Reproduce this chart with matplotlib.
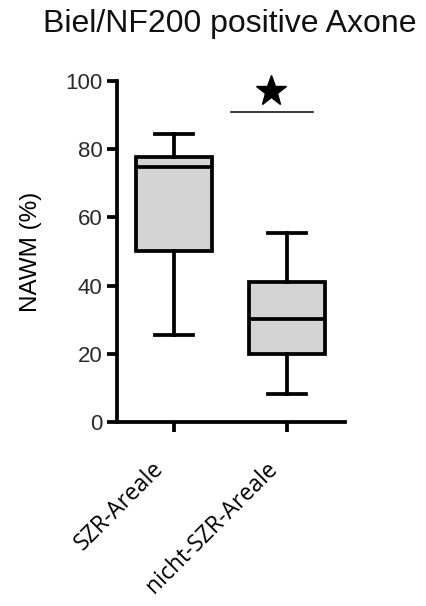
import matplotlib.pyplot as plt
import matplotlib.transforms as mtransforms

# ── Data ──────────────────────────────────────────────────────────────────────
groups   = ['SZR-Areale', 'nicht-SZR-Areale']
whis_lo  = [25.5, 8.2]
q1       = [50.1, 19.9]
median   = [74.8, 30.2]
q3       = [77.7, 41.0]
whis_hi  = [84.5, 55.4]

sig_x    = [1.5, 2.23]
sig_y    = [91, 91]
star_xy  = (1.86, 97)

BOX_COL = '#d4d4d4'
LW = 2.7

fig = plt.figure(figsize=(4.26, 6.06), dpi=100)
ax = fig.add_axes([0.2746, 0.3036, 0.5354, 0.5627])

stats = [dict(label=g, whislo=lo, q1=a, med=m, q3=b, whishi=hi)
         for g, lo, a, m, b, hi in zip(groups, whis_lo, q1, median, q3, whis_hi)]
ax.bxp(stats, positions=[1, 2], widths=0.67, capwidths=0.33, showfliers=False,
       patch_artist=True,
       boxprops=dict(facecolor=BOX_COL, edgecolor='black', linewidth=LW),
       medianprops=dict(color='black', linewidth=LW),
       whiskerprops=dict(color='black', linewidth=LW),
       capprops=dict(color='black', linewidth=LW))

# significance bar + star
ax.plot(sig_x, sig_y, color='black', linewidth=1.1, clip_on=False)
ax.plot([star_xy[0]], [star_xy[1]], marker='*', markersize=23, color='black',
        clip_on=False)

ax.set_xlim(0.496, 2.513)
ax.set_ylim(0, 100)
ax.set_yticks([0, 20, 40, 60, 80, 100])

for s in ['top', 'right']:
    ax.spines[s].set_visible(False)
for s in ['left', 'bottom']:
    ax.spines[s].set_linewidth(LW)

ax.tick_params(axis='both', direction='out', length=7.5, width=LW, pad=3)
ax.tick_params(axis='y', labelsize=16, labelcolor='#2a2a2a')
for t in ax.get_yticklabels():
    t.set_family('Liberation Sans')

ax.set_xticks([1, 2])
ax.set_xticklabels(groups, rotation=45, ha='right', rotation_mode='anchor',
                   fontsize=16.5, family='Open Sans')
ax.tick_params(axis='x', pad=14)
shift = mtransforms.ScaledTranslation(-22 / 100, -5 / 100, fig.dpi_scale_trans)
for t in ax.get_xticklabels():
    t.set_transform(t.get_transform() + shift)

ax.set_ylabel('NAWM (%)', fontsize=17.5, family='Liberation Sans', labelpad=17)
fig.text(0.54, 0.96, 'Biel/NF200 positive Axone', ha='center', va='center',
         fontsize=23, family='Liberation Sans', color='#111111')

plt.savefig('out.png', dpi=100, facecolor='white')
